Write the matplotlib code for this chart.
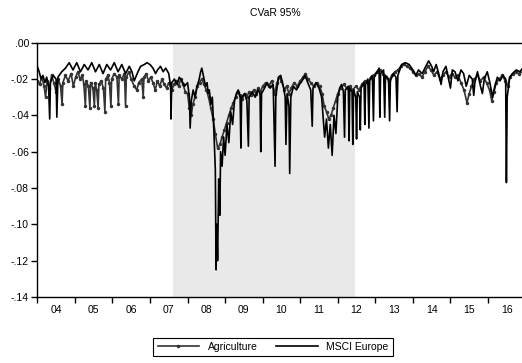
import matplotlib.pyplot as plt
from matplotlib.ticker import FixedLocator, NullFormatter

# Values (decimal year, CVaR)
msci_dates = [
    2004.00, 2004.05, 2004.10, 2004.15, 2004.20, 2004.25, 2004.30, 2004.33, 2004.35, 2004.42,
    2004.50, 2004.52, 2004.55, 2004.65, 2004.75, 2004.85, 2004.95, 2005.05, 2005.15, 2005.25,
    2005.35, 2005.45, 2005.55, 2005.65, 2005.75, 2005.85, 2005.95, 2006.05, 2006.15, 2006.25,
    2006.35, 2006.45, 2006.52, 2006.58, 2006.62, 2006.68, 2006.75, 2006.85, 2006.92, 2007.00,
    2007.08, 2007.15, 2007.20, 2007.28, 2007.35, 2007.42, 2007.50, 2007.55, 2007.56, 2007.58,
    2007.65, 2007.72, 2007.78, 2007.85, 2007.92, 2008.00, 2008.05, 2008.07, 2008.10, 2008.15,
    2008.20, 2008.25, 2008.30, 2008.35, 2008.38, 2008.42, 2008.48, 2008.52, 2008.55, 2008.58,
    2008.62, 2008.66, 2008.70, 2008.74, 2008.76, 2008.78, 2008.80, 2008.83, 2008.86, 2008.88,
    2008.92, 2008.96, 2009.00, 2009.05, 2009.10, 2009.15, 2009.20, 2009.25, 2009.30, 2009.35,
    2009.40, 2009.42, 2009.44, 2009.52, 2009.58, 2009.62, 2009.64, 2009.72, 2009.80, 2009.88,
    2009.93, 2009.95, 2009.97, 2010.05, 2010.12, 2010.20, 2010.28, 2010.33, 2010.35, 2010.42,
    2010.48, 2010.55, 2010.60, 2010.62, 2010.65, 2010.70, 2010.72, 2010.75, 2010.82, 2010.90,
    2010.98, 2011.05, 2011.13, 2011.20, 2011.28, 2011.32, 2011.34, 2011.42, 2011.50, 2011.57,
    2011.60, 2011.65, 2011.70, 2011.75, 2011.80, 2011.85, 2011.90, 2011.95, 2012.00, 2012.05,
    2012.10, 2012.15, 2012.18, 2012.20, 2012.28, 2012.30, 2012.32, 2012.38, 2012.40, 2012.42,
    2012.48, 2012.50, 2012.52, 2012.58, 2012.60, 2012.62, 2012.70, 2012.72, 2012.74, 2012.80,
    2012.83, 2012.85, 2012.92, 2012.95, 2012.97, 2013.05, 2013.10, 2013.12, 2013.14, 2013.22,
    2013.25, 2013.27, 2013.35, 2013.38, 2013.40, 2013.48, 2013.55, 2013.58, 2013.60, 2013.70,
    2013.80, 2013.90, 2014.00, 2014.08, 2014.15, 2014.25, 2014.32, 2014.42, 2014.50, 2014.55,
    2014.62, 2014.70, 2014.75, 2014.80, 2014.88, 2014.95, 2015.00, 2015.05, 2015.12, 2015.20,
    2015.28, 2015.35, 2015.42, 2015.50, 2015.58, 2015.62, 2015.65, 2015.72, 2015.80, 2015.85,
    2015.90, 2015.98, 2016.05, 2016.12, 2016.18, 2016.25, 2016.32, 2016.40, 2016.47, 2016.49,
    2016.51, 2016.58, 2016.65, 2016.75, 2016.85, 2016.92,
]
msci = [
    -0.013, -0.016, -0.020, -0.018, -0.022, -0.019, -0.024, -0.042, -0.022, -0.018,
    -0.020, -0.041, -0.019, -0.016, -0.014, -0.011, -0.015, -0.011, -0.016, -0.012,
    -0.015, -0.011, -0.016, -0.012, -0.017, -0.012, -0.015, -0.011, -0.016, -0.012,
    -0.017, -0.013, -0.016, -0.021, -0.019, -0.016, -0.013, -0.012, -0.011, -0.012,
    -0.014, -0.017, -0.015, -0.013, -0.016, -0.014, -0.017, -0.024, -0.042, -0.022,
    -0.020, -0.023, -0.019, -0.021, -0.024, -0.022, -0.030, -0.047, -0.032, -0.026,
    -0.030, -0.024, -0.021, -0.016, -0.014, -0.018, -0.024, -0.022, -0.028, -0.026,
    -0.034, -0.030, -0.048, -0.070, -0.125, -0.100, -0.120, -0.075, -0.095, -0.060,
    -0.068, -0.052, -0.062, -0.045, -0.055, -0.038, -0.045, -0.032, -0.028, -0.026,
    -0.030, -0.058, -0.030, -0.028, -0.032, -0.057, -0.030, -0.027, -0.030, -0.026,
    -0.028, -0.060, -0.028, -0.025, -0.022, -0.025, -0.023, -0.068, -0.030, -0.019,
    -0.018, -0.024, -0.030, -0.056, -0.028, -0.035, -0.072, -0.030, -0.024, -0.026,
    -0.023, -0.021, -0.018, -0.022, -0.026, -0.046, -0.025, -0.022, -0.025, -0.030,
    -0.038, -0.052, -0.042, -0.058, -0.045, -0.062, -0.040, -0.050, -0.030, -0.025,
    -0.023, -0.027, -0.052, -0.026, -0.024, -0.054, -0.025, -0.027, -0.056, -0.026,
    -0.030, -0.053, -0.027, -0.030, -0.048, -0.025, -0.022, -0.045, -0.023, -0.020,
    -0.047, -0.021, -0.018, -0.043, -0.019, -0.016, -0.014, -0.041, -0.017, -0.015,
    -0.041, -0.018, -0.020, -0.043, -0.021, -0.017, -0.019, -0.038, -0.018, -0.012,
    -0.011, -0.012, -0.015, -0.018, -0.015, -0.017, -0.014, -0.010, -0.013, -0.016,
    -0.012, -0.018, -0.023, -0.016, -0.013, -0.020, -0.025, -0.015, -0.016, -0.021,
    -0.015, -0.017, -0.024, -0.018, -0.020, -0.029, -0.022, -0.016, -0.024, -0.028,
    -0.020, -0.016, -0.022, -0.030, -0.024, -0.019, -0.021, -0.018, -0.020, -0.077,
    -0.030, -0.019, -0.017, -0.015, -0.016, -0.014,
]

agri_dates = [
    2004.00, 2004.06, 2004.12, 2004.18, 2004.22, 2004.26, 2004.32, 2004.38, 2004.44, 2004.50,
    2004.56, 2004.62, 2004.66, 2004.68, 2004.75, 2004.82, 2004.90, 2004.96, 2005.02, 2005.08,
    2005.14, 2005.20, 2005.24, 2005.28, 2005.30, 2005.36, 2005.40, 2005.42, 2005.48, 2005.52,
    2005.54, 2005.58, 2005.62, 2005.64, 2005.70, 2005.76, 2005.80, 2005.82, 2005.88, 2005.92,
    2005.96, 2005.98, 2006.05, 2006.12, 2006.16, 2006.18, 2006.25, 2006.32, 2006.35, 2006.37,
    2006.44, 2006.50, 2006.58, 2006.65, 2006.70, 2006.78, 2006.82, 2006.84, 2006.90, 2006.96,
    2007.02, 2007.08, 2007.14, 2007.20, 2007.26, 2007.32, 2007.38, 2007.44, 2007.50, 2007.58,
    2007.64, 2007.70, 2007.76, 2007.82, 2007.88, 2007.94, 2008.00, 2008.05, 2008.10, 2008.14,
    2008.20, 2008.26, 2008.32, 2008.38, 2008.44, 2008.50, 2008.56, 2008.62, 2008.68, 2008.74,
    2008.80, 2008.86, 2008.92, 2008.98, 2009.04, 2009.10, 2009.16, 2009.22, 2009.28, 2009.34,
    2009.40, 2009.46, 2009.52, 2009.58, 2009.64, 2009.70, 2009.76, 2009.82, 2009.88, 2009.94,
    2010.00, 2010.08, 2010.16, 2010.24, 2010.32, 2010.38, 2010.44, 2010.50, 2010.58, 2010.64,
    2010.70, 2010.76, 2010.84, 2010.92, 2011.00, 2011.08, 2011.14, 2011.20, 2011.28, 2011.36,
    2011.44, 2011.52, 2011.58, 2011.64, 2011.70, 2011.76, 2011.82, 2011.88, 2011.94, 2012.00,
    2012.08, 2012.16, 2012.24, 2012.32, 2012.40, 2012.48, 2012.56, 2012.64, 2012.72, 2012.80,
    2012.88, 2012.96, 2013.04, 2013.12, 2013.20, 2013.28, 2013.36, 2013.44, 2013.52, 2013.60,
    2013.68, 2013.76, 2013.84, 2013.92, 2014.00, 2014.08, 2014.16, 2014.24, 2014.32, 2014.40,
    2014.48, 2014.56, 2014.64, 2014.72, 2014.80, 2014.88, 2014.96, 2015.04, 2015.12, 2015.20,
    2015.28, 2015.36, 2015.44, 2015.50, 2015.56, 2015.64, 2015.72, 2015.80, 2015.88, 2015.96,
    2016.04, 2016.10, 2016.16, 2016.22, 2016.30, 2016.38, 2016.46, 2016.52, 2016.58, 2016.66,
    2016.74, 2016.82, 2016.92,
]
agri = [
    -0.021, -0.023, -0.019, -0.024, -0.030, -0.021, -0.025, -0.018, -0.022, -0.027,
    -0.020, -0.024, -0.034, -0.022, -0.018, -0.021, -0.017, -0.024, -0.019, -0.016,
    -0.020, -0.018, -0.023, -0.035, -0.021, -0.024, -0.036, -0.022, -0.025, -0.035,
    -0.022, -0.026, -0.036, -0.023, -0.021, -0.025, -0.038, -0.020, -0.018, -0.022,
    -0.035, -0.020, -0.017, -0.019, -0.034, -0.018, -0.020, -0.017, -0.035, -0.019,
    -0.016, -0.020, -0.024, -0.026, -0.022, -0.020, -0.030, -0.019, -0.017, -0.021,
    -0.019, -0.022, -0.026, -0.021, -0.024, -0.020, -0.023, -0.025, -0.022, -0.026,
    -0.023, -0.021, -0.024, -0.020, -0.023, -0.027, -0.028, -0.036, -0.040, -0.034,
    -0.030, -0.024, -0.022, -0.020, -0.023, -0.026, -0.030, -0.036, -0.042, -0.050,
    -0.058, -0.056, -0.052, -0.048, -0.044, -0.040, -0.036, -0.033, -0.030, -0.027,
    -0.029, -0.031, -0.028, -0.030, -0.027, -0.029, -0.026, -0.028, -0.025, -0.027,
    -0.024, -0.022, -0.024, -0.021, -0.028, -0.022, -0.019, -0.021, -0.026, -0.024,
    -0.028, -0.025, -0.022, -0.024, -0.021, -0.019, -0.017, -0.020, -0.022, -0.024,
    -0.022, -0.024, -0.028, -0.035, -0.038, -0.042, -0.040, -0.036, -0.032, -0.028,
    -0.025, -0.023, -0.025, -0.024, -0.026, -0.024, -0.026, -0.023, -0.021, -0.022,
    -0.019, -0.018, -0.016, -0.015, -0.017, -0.019, -0.021, -0.018, -0.016, -0.015,
    -0.013, -0.012, -0.013, -0.014, -0.016, -0.018, -0.017, -0.019, -0.016, -0.013,
    -0.015, -0.018, -0.016, -0.020, -0.018, -0.016, -0.019, -0.017, -0.019, -0.018,
    -0.022, -0.026, -0.033, -0.028, -0.024, -0.020, -0.018, -0.021, -0.019, -0.022,
    -0.026, -0.032, -0.027, -0.022, -0.020, -0.018, -0.021, -0.024, -0.019, -0.017,
    -0.016, -0.017, -0.016,
]

years = list(range(2004, 2017))
year_labels = ["%02d" % (y % 100) for y in years]
yticks = [0.0, -0.02, -0.04, -0.06, -0.08, -0.10, -0.12, -0.14]
ytick_labels = [".00", "-.02", "-.04", "-.06", "-.08", "-.10", "-.12", "-.14"]
shade_start, shade_end = 2007.6, 2012.45

plt.rcParams["font.family"] = ["Liberation Sans", "DejaVu Sans"]
plt.rcParams["font.size"] = 7.5

fig = plt.figure(figsize=(5.22, 3.63), dpi=100)
ax = fig.add_axes([37.3 / 522, 1 - 297 / 363, (522 - 37.3) / 522, (297 - 42.7) / 363])

ax.axvspan(shade_start, shade_end, color="#e9e9e9", lw=0, zorder=0)
ax.plot(agri_dates, agri, color="#333333", lw=1.2, marker=".", ms=3,
        label="Agriculture", zorder=2)
ax.plot(msci_dates, msci, color="black", lw=1.2, label="MSCI Europe", zorder=3)

ax.set_xlim(2004.0, 2016.905)
ax.set_ylim(-0.14, 0.0)

ax.xaxis.set_major_locator(FixedLocator(years))
ax.xaxis.set_major_formatter(NullFormatter())
ax.xaxis.set_minor_locator(FixedLocator([y + 0.5 for y in years]))
ax.set_xticklabels(year_labels, minor=True)
ax.tick_params(axis="x", which="major", direction="out", length=4, width=1, color="black")
ax.tick_params(axis="x", which="minor", length=0, pad=6)

ax.set_yticks(yticks)
ax.set_yticklabels(ytick_labels)
ax.tick_params(axis="y", direction="out", length=4, width=1, pad=2)

for side in ["left", "top", "bottom"]:
    ax.spines[side].set_linewidth(1.0)
ax.spines["right"].set_visible(False)

fig.text(275 / 522, 1 - 13 / 363, "CVaR 95%", ha="center", va="center", fontsize=7.5)

leg = fig.legend(loc="center", bbox_to_anchor=(273 / 522, 1 - 347 / 363), ncol=2,
                 frameon=True, fancybox=False, edgecolor="black", framealpha=1,
                 handlelength=4, columnspacing=1.8, borderpad=0.4, fontsize=7.5)
leg.get_frame().set_linewidth(0.8)

fig.savefig("out.png", dpi=100)
